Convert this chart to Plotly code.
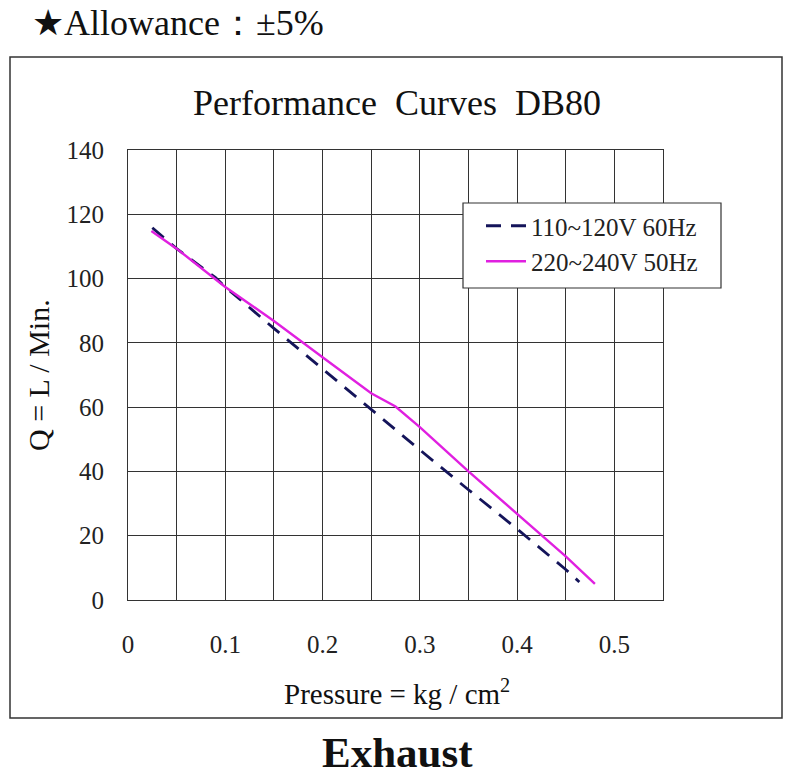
import plotly.graph_objects as go

# 110~120V 60Hz (dashed)
p_110 = [0.025, 0.05, 0.09, 0.10, 0.15, 0.20, 0.25, 0.30, 0.35, 0.40, 0.45, 0.464]
q_110 = [115.8, 109.3, 100.3, 97.4, 84.5, 71.8, 59.3, 46.7, 34.3, 22.1, 9.5, 5.6]

# 220~240V 50Hz (solid)
p_220 = [0.024, 0.05, 0.10, 0.15, 0.20, 0.25, 0.275, 0.30, 0.35, 0.40, 0.45, 0.48]
q_220 = [114.8, 109.3, 97.4, 86.8, 75.5, 64.3, 60.2, 53.8, 40.0, 26.9, 13.6, 5.0]

W, H = 793, 778
L, R, T, B = 128, 663, 150, 600
FONT = "Liberation Serif, Times New Roman, serif"
LINE = "#333333"


def px(x):
    return (x - L) / (R - L)


def py(y):
    return (B - y) / (B - T)


fig = go.Figure()

fig.add_trace(
    go.Scatter(
        x=p_110,
        y=q_110,
        mode="lines",
        name="110~120V 60Hz",
        line=dict(color="#14145a", width=2.8, dash="15px,10px"),
    )
)
fig.add_trace(
    go.Scatter(
        x=p_220,
        y=q_220,
        mode="lines",
        name="220~240V 50Hz",
        line=dict(color="#e020e0", width=2.4),
    )
)

axis_common = dict(
    showline=True,
    mirror=True,
    linecolor=LINE,
    linewidth=1.2,
    showgrid=True,
    gridcolor=LINE,
    gridwidth=1.2,
    zeroline=False,
    ticks="",
    tickfont=dict(family=FONT, size=25, color="#222222"),
)

fig.update_xaxes(
    range=[0, 0.55],
    tickvals=[0, 0.1, 0.2, 0.3, 0.4, 0.5],
    ticktext=["0", "0.1", "0.2", "0.3", "0.4", "0.5"],
    minor=dict(dtick=0.05, showgrid=True, gridcolor=LINE, gridwidth=1.2),
    ticklabelstandoff=22,
    **axis_common,
)
fig.update_yaxes(
    range=[0, 140],
    dtick=20,
    ticklabelstandoff=18,
    **axis_common,
)

fig.update_layout(
    width=W,
    height=H,
    margin=dict(l=L, r=W - R, t=T, b=H - B),
    paper_bgcolor="white",
    plot_bgcolor="white",
    font=dict(family=FONT, color="#222222"),
    showlegend=True,
    legend=dict(
        x=px(481),
        y=py(203),
        xanchor="left",
        yanchor="top",
        bgcolor="rgba(0,0,0,0)",
        borderwidth=0,
        itemwidth=40,
        font=dict(family=FONT, size=25, color="#222222"),
    ),
    shapes=[
        # outer frame
        dict(
            type="rect",
            xref="paper",
            yref="paper",
            x0=px(10),
            x1=px(782),
            y0=py(718),
            y1=py(57),
            line=dict(color=LINE, width=1.5),
            layer="below",
        ),
        # legend box
        dict(
            type="rect",
            xref="paper",
            yref="paper",
            x0=px(463),
            x1=px(721),
            y0=py(288),
            y1=py(203),
            fillcolor="white",
            line=dict(color=LINE, width=1.2),
            layer="above",
        ),
    ],
)

notes = [
    ("★Allowance：±5%", 30, 23, 36, "left", 0),
    ("Performance  Curves  DB80", 397, 103, 36, "center", 0),
    ("Q = L / Min.", 38, 375, 30, "center", -90),
    ("Pressure = kg / cm<sup>2</sup>", 397, 692, 29, "center", 0),
    ("<b>Exhaust</b>", 397, 752, 43, "center", 0),
]
for text, x, y, size, anchor, angle in notes:
    fig.add_annotation(
        text=text,
        x=px(x),
        y=py(y),
        xref="paper",
        yref="paper",
        xanchor=anchor,
        yanchor="middle",
        textangle=angle,
        showarrow=False,
        font=dict(family=FONT, size=size, color="#111111"),
    )

# drop the default body margin so the figure fills the window exactly
fig.write_html(
    "out.html",
    config={"displayModeBar": False},
    post_script="document.body.style.margin = '0';",
)
